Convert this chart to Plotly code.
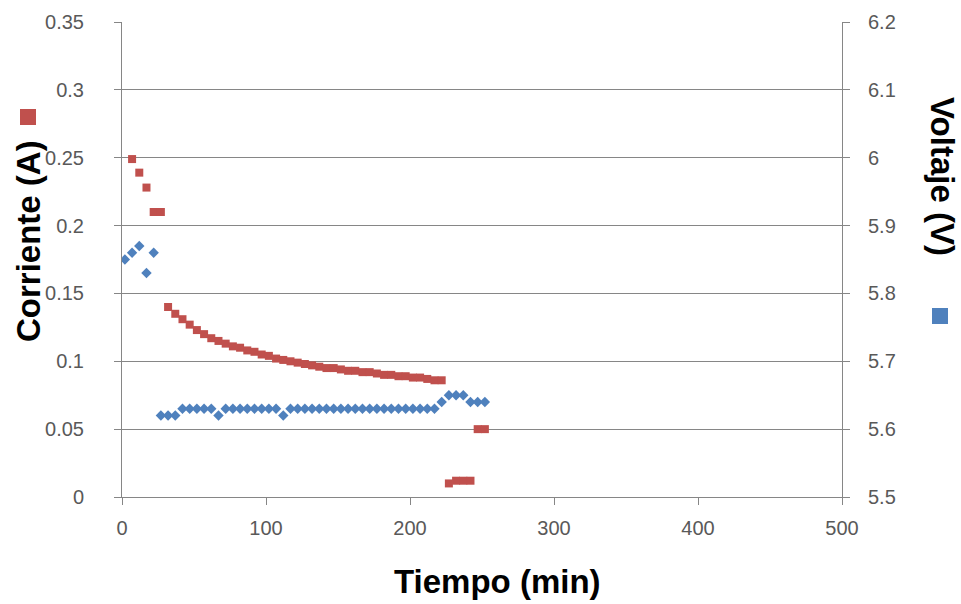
import plotly.graph_objects as go

# ---- data ----
tiempo_corriente = [7, 12, 17, 22, 27,
                    32, 37, 42, 47, 52, 57, 62, 67, 72, 77, 82, 87, 92, 97, 102,
                    107, 112, 117, 122, 127, 132, 137, 142, 147, 152, 157, 162,
                    167, 172, 177, 182, 187, 192, 197, 202, 207, 212, 217, 222,
                    227, 232, 237, 242, 247, 252]
corriente = [0.249, 0.239, 0.228, 0.210, 0.210,
             0.140, 0.135, 0.131, 0.127, 0.123, 0.120, 0.117, 0.115, 0.113, 0.111,
             0.110, 0.108, 0.107, 0.105, 0.104, 0.102, 0.101, 0.100, 0.099, 0.098,
             0.097, 0.096, 0.095, 0.095, 0.094, 0.093, 0.093, 0.092, 0.092, 0.091,
             0.090, 0.090, 0.089, 0.089, 0.088, 0.088, 0.087, 0.086, 0.086,
             0.010, 0.012, 0.012, 0.012, 0.050, 0.050]

tiempo_voltaje = [2, 7, 12, 17, 22,
                  27, 32, 37, 42, 47, 52, 57, 62, 67, 72, 77, 82, 87, 92, 97, 102,
                  107, 112, 117, 122, 127, 132, 137, 142, 147, 152, 157, 162,
                  167, 172, 177, 182, 187, 192, 197, 202, 207, 212, 217, 222,
                  227, 232, 237, 242, 247, 252]
voltaje = [5.85, 5.86, 5.87, 5.83, 5.86,
           5.62, 5.62, 5.62, 5.63, 5.63, 5.63, 5.63, 5.63, 5.62, 5.63, 5.63, 5.63,
           5.63, 5.63, 5.63, 5.63, 5.63, 5.62, 5.63, 5.63, 5.63, 5.63, 5.63, 5.63,
           5.63, 5.63, 5.63, 5.63, 5.63, 5.63, 5.63, 5.63, 5.63, 5.63, 5.63, 5.63,
           5.63, 5.63, 5.63, 5.64, 5.65, 5.65, 5.65, 5.64, 5.64, 5.64]

x_ticks = [0, 100, 200, 300, 400, 500]
y_ticks = [0, 0.05, 0.1, 0.15, 0.2, 0.25, 0.3, 0.35]
y_ticktext = ["0", "0.05", "0.1", "0.15", "0.2", "0.25", "0.3", "0.35"]
y2_ticks = [5.5, 5.6, 5.7, 5.8, 5.9, 6.0, 6.1, 6.2]
y2_ticktext = ["5.5", "5.6", "5.7", "5.8", "5.9", "6", "6.1", "6.2"]

RED = "#C0504D"
BLUE = "#4F81BD"
AXIS = "#868686"
TICKFONT = dict(family="Liberation Sans, Arial, sans-serif", size=20, color="#595959")
TITLEFONT = dict(family="Liberation Sans, Arial, sans-serif", size=33, color="#000000")

W, H = 961, 604
L, R, T, B = 122, 119, 22, 107
PW, PH = W - L - R, H - T - B

def px(x):
    return (x - L) / PW

def py(y):
    return (H - B - y) / PH

fig = go.Figure()
fig.add_trace(go.Scatter(x=tiempo_voltaje, y=voltaje, mode="markers", yaxis="y2",
                         name="Voltaje (V)",
                         marker=dict(symbol="diamond", size=8, color=BLUE,
                                     line=dict(width=0))))
fig.add_trace(go.Scatter(x=tiempo_corriente, y=corriente, mode="markers",
                         name="Corriente (A)",
                         marker=dict(symbol="square", size=8, color=RED,
                                     line=dict(width=0))))

fig.update_layout(
    width=W, height=H,
    margin=dict(l=L, r=R, t=T, b=B),
    paper_bgcolor="white", plot_bgcolor="white",
    showlegend=False,
    xaxis=dict(range=[0, 500], tickvals=x_ticks, ticktext=[str(v) for v in x_ticks],
               showline=True, linecolor=AXIS, linewidth=1,
               ticks="outside", ticklen=7, tickcolor=AXIS,
               showgrid=False, zeroline=False, tickfont=TICKFONT,
               ticklabelstandoff=6),
    yaxis=dict(range=[0, 0.35], tickvals=y_ticks, ticktext=y_ticktext,
               showline=True, linecolor=AXIS, linewidth=1,
               ticks="outside", ticklen=7, tickcolor=AXIS,
               showgrid=True, gridcolor=AXIS, gridwidth=1,
               zeroline=False, tickfont=TICKFONT, ticklabelstandoff=26),
    yaxis2=dict(range=[5.5, 6.2], tickvals=y2_ticks, ticktext=y2_ticktext,
                overlaying="y", side="right",
                showline=True, linecolor=AXIS, linewidth=1,
                ticks="outside", ticklen=7, tickcolor=AXIS,
                showgrid=False, zeroline=False, tickfont=TICKFONT,
                ticklabelstandoff=14),
)

fig.add_annotation(text="<b>Tiempo (min)</b>", xref="paper", yref="paper",
                   x=px(392), y=py(581), xanchor="left", yanchor="middle",
                   showarrow=False, font=TITLEFONT)
fig.add_annotation(text="<b>Corriente (A)</b>", xref="paper", yref="paper",
                   x=px(28), y=py(241), xanchor="center", yanchor="middle",
                   textangle=-90, showarrow=False, font=TITLEFONT)
fig.add_annotation(text="<b>Voltaje (V)</b>", xref="paper", yref="paper",
                   x=px(943), y=py(176), xanchor="center", yanchor="middle",
                   textangle=90, showarrow=False, font=TITLEFONT)

# legend keys next to the axis titles
for cx, cy, col in [(28, 117, RED), (940, 316, BLUE)]:
    fig.add_shape(type="rect", xref="paper", yref="paper",
                  x0=px(cx - 8), x1=px(cx + 8), y0=py(cy + 8), y1=py(cy - 8),
                  fillcolor=col, line=dict(width=0))

fig.write_html("out.html")
